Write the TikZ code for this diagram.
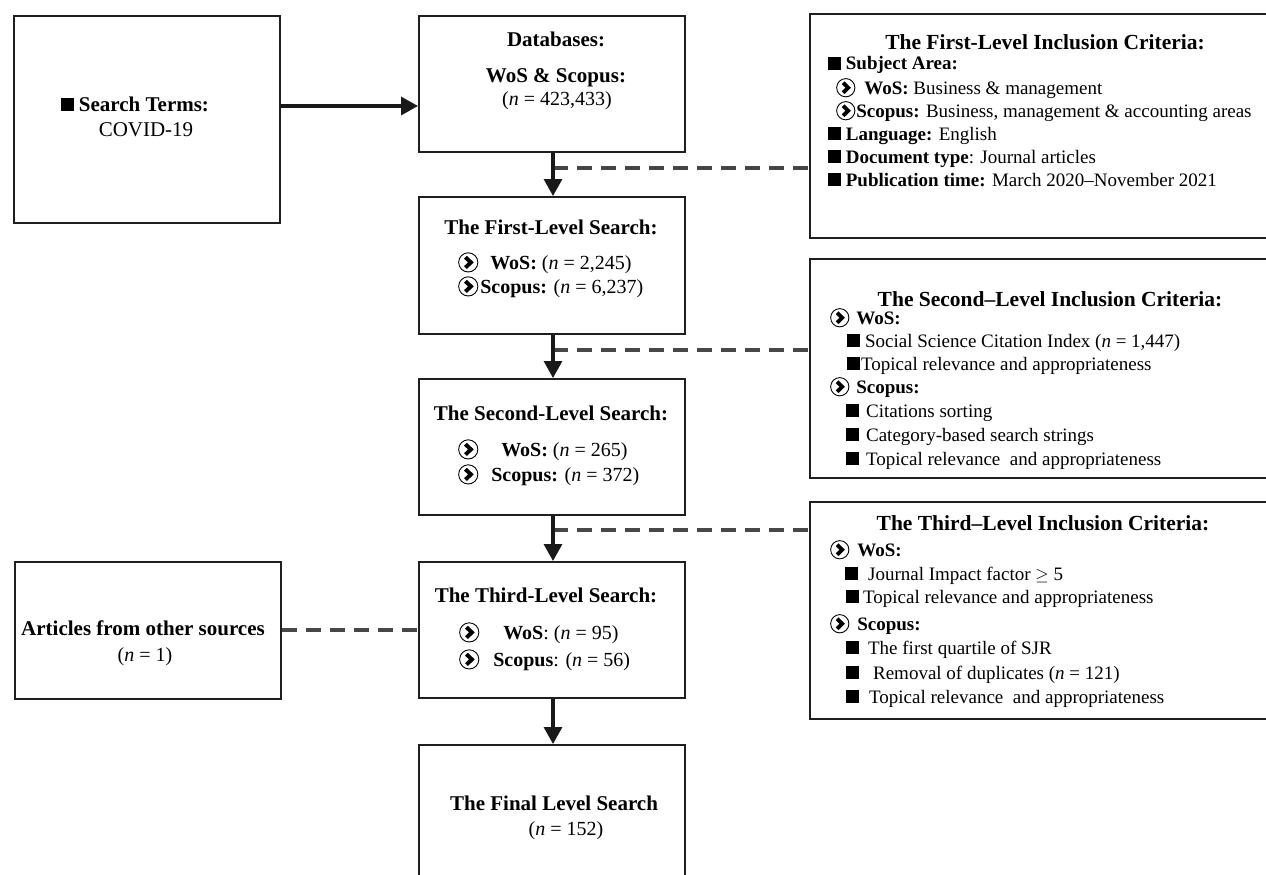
\documentclass[tikz,border=0pt]{standalone}
\usepackage{fontspec}
\setmainfont{Liberation Serif}
\usetikzlibrary{arrows.meta}
\newcommand{\carr}{\tikz[baseline=-0.33em,x=1pt,y=1pt]{\draw[line width=0.9pt] (0,0) circle (0.48em); \draw[line width=0.2em,line join=miter] (-0.14em,0.26em) -- (0.13em,0) -- (-0.14em,-0.26em);}}
\newcommand{\sqb}{\rule{0.68em}{0.68em}}
\begin{document}
\begin{tikzpicture}[x=1pt,y=-1pt,
  box/.style={draw=black!88, line width=1.7pt, anchor=north west, inner sep=0pt, fill=none},
  ttl/.style={font=\fontsize{21pt}{25pt}\selectfont\bfseries, anchor=base, inner sep=0pt},
  cttl/.style={font=\fontsize{21.5pt}{25pt}\selectfont\bfseries, anchor=base, inner sep=0pt},
  ctr/.style={font=\fontsize{20pt}{24pt}\selectfont, anchor=base, inner sep=0pt},
  mid/.style={font=\fontsize{20pt}{24pt}\selectfont, anchor=base west, inner sep=0pt},
  crt/.style={font=\fontsize{19pt}{23pt}\selectfont, anchor=base west, inner sep=0pt},
  arr/.style={draw=black!90, line width=3.2pt, -{Triangle[length=17pt,width=18pt]}},
  dsh/.style={draw=black!72, line width=4pt, dash pattern=on 15pt off 9pt}]
\path[use as bounding box, clip] (0,0) rectangle (1266,875);
\fill[white] (0,0) rectangle (1266,875);

% boxes
\node[box, minimum width=266pt, minimum height=207pt] (search) at (13,15) {};
\node[box, minimum width=266pt, minimum height=136pt] (db) at (418,15) {};
\node[box, minimum width=266pt, minimum height=137pt] (first) at (418,196) {};
\node[box, minimum width=266pt, minimum height=136pt] (second) at (418,378) {};
\node[box, minimum width=266pt, minimum height=136pt] (third) at (418,561) {};
\node[box, minimum width=266pt, minimum height=160pt] (final) at (418,744) {};
\node[box, minimum width=266pt, minimum height=137pt] (art) at (14,561) {};
\node[box, minimum width=480pt, minimum height=224pt] (crit1) at (809,13) {};
\node[box, minimum width=480pt, minimum height=219pt] (crit2) at (809,258) {};
\node[box, minimum width=480pt, minimum height=217pt] (crit3) at (809,501) {};

% search terms
\node[ttl] (st1) at (135,111) {\rule{0.6em}{0.6em}\ Search Terms:};
\node[ctr, font=\fontsize{21pt}{25pt}\selectfont] (st2) at (146,136) {COVID-19};

% databases
\node[ttl] (dbt) at (556,47) {Databases:};
\node[ttl] (dbw) at (556,82) {WoS \& Scopus:};
\node[ctr] (dbn) at (557,105) {(\textit{n} = 423,433)};

% first level
\node[ttl] (ft) at (551,234) {The First-Level Search:};
\node[mid] (fw) at (458,269) {\carr\hspace{12pt}\textbf{WoS:} (\textit{n} = 2,245)};
\node[mid] (fs) at (458,293) {\carr\hspace{2pt}\textbf{Scopus:} (\textit{n} = 6,237)};

% second level
\node[ttl] (sct) at (551,420) {The Second-Level Search:};
\node[mid] (scw) at (458,456) {\carr\hspace{23pt}\textbf{WoS:} (\textit{n} = 265)};
\node[mid] (scs) at (458,481) {\carr\hspace{13pt}\textbf{Scopus:} (\textit{n} = 372)};

% third level
\node[ttl] (tt) at (546,602) {The Third-Level Search:};
\node[mid] (tw) at (459,639) {\carr\hspace{24pt}\textbf{WoS}: (\textit{n} = 95)};
\node[mid] (ts) at (459,666) {\carr\hspace{14pt}\textbf{Scopus}: (\textit{n} = 56)};

% final
\node[ttl] (fnt) at (554,810) {The Final Level Search};
\node[ctr] (fnn) at (566,835) {(\textit{n} = 152)};

% articles
\node[ttl] (at) at (143,635) {Articles from other sources};
\node[ctr] (an) at (145,661) {(\textit{n} = 1)};

% criteria 1
\node[cttl] (c1t) at (1045,49) {The First-Level Inclusion Criteria:};
\node[crt] (c1a) at (828,70) {\sqb\ \textbf{Subject Area:}};
\node[crt] (c1b) at (836,94) {\carr\hspace{9pt}\textbf{WoS:} Business \& management};
\node[crt] (c1c) at (836,117) {\carr\hspace{1pt}\textbf{Scopus:} Business, management \& accounting areas};
\node[crt] (c1d) at (828,140) {\sqb\ \textbf{Language:} English};
\node[crt] (c1e) at (828,163) {\sqb\ \textbf{Document type}: Journal articles};
\node[crt] (c1f) at (828,186) {\sqb\ \textbf{Publication time:} March 2020--November 2021};

% criteria 2
\node[cttl] (c2t) at (1050,306) {The Second--Level Inclusion Criteria:};
\node[crt] (c2a) at (830,324) {\carr\hspace{7pt}\textbf{WoS:}};
\node[crt] (c2b) at (847,347) {\sqb\hspace{5pt}Social Science Citation Index (\textit{n} = 1,447)};
\node[crt] (c2c) at (847,370) {\sqb\hspace{1pt}Topical relevance and appropriateness};
\node[crt] (c2d) at (830,393) {\carr\hspace{7pt}\textbf{Scopus:}};
\node[crt] (c2e) at (846,417) {\sqb\hspace{7pt}Citations sorting};
\node[crt] (c2f) at (846,441) {\sqb\hspace{7pt}Category-based search strings};
\node[crt] (c2g) at (846,465) {\sqb\hspace{7pt}Topical relevance~ and appropriateness};

% criteria 3
\node[cttl] (c3t) at (1043,530) {The Third--Level Inclusion Criteria:};
\node[crt] (c3a) at (830,556) {\carr\hspace{8pt}\textbf{WoS:}};
\node[crt] (c3b) at (845,580) {\sqb\hspace{10pt}Journal Impact factor $\geq$ 5};
\node[crt] (c3c) at (846,603) {\sqb\hspace{4pt}Topical relevance and appropriateness};
\node[crt] (c3d) at (830,630) {\carr\hspace{8pt}\textbf{Scopus:}};
\node[crt] (c3e) at (846,654) {\sqb\hspace{9pt}The first quartile of SJR};
\node[crt] (c3f) at (846,679) {\sqb\hspace{14pt}Removal of duplicates (\textit{n} = 121)};
\node[crt] (c3g) at (846,703) {\sqb\hspace{10pt}Topical relevance~ and appropriateness};

% connectors
\coordinate (sa) at (350,106);
\coordinate (j1) at (553,168);
\coordinate (j2) at (553,350);
\coordinate (j3) at (553,530);
\draw[dsh] (j1) -- (j1 -| crit1.west);
\draw[dsh] (j2) -- (j2 -| crit2.west);
\draw[dsh] (j3) -- (j3 -| crit3.west);
\draw[dsh] (art.east) -- (art.east -| third.west);
\draw[arr] (search.east |- sa) -- (db.west |- sa);
\draw[arr] (db.south -| j1) -- (first.north -| j1);
\draw[arr] (first.south -| j1) -- (second.north -| j1);
\draw[arr] (second.south -| j1) -- (third.north -| j1);
\draw[arr] (third.south -| j1) -- (final.north -| j1);
\end{tikzpicture}
\end{document}
